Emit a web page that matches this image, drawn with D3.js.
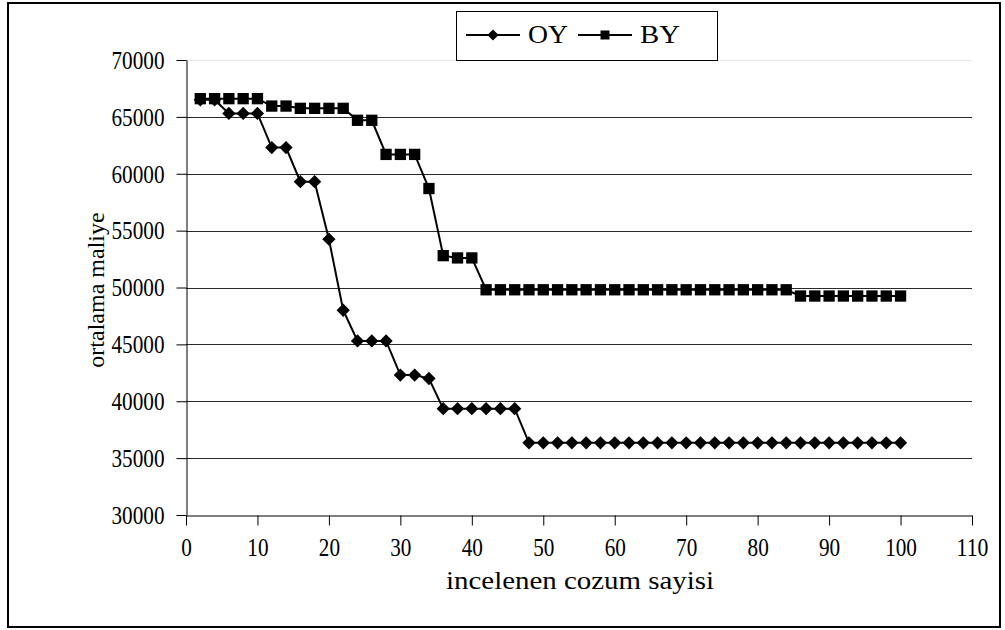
<!DOCTYPE html>
<html>
<head>
<meta charset="utf-8">
<script src="https://cdn.jsdelivr.net/npm/d3@7"></script>
<style>
  html, body { margin: 0; padding: 0; background: #fff; }
  svg { display: block; }
  svg text { font-family: "Liberation Serif", Tinos, "Times New Roman", "DejaVu Serif", serif !important; fill: #000; }
</style>
</head>
<body>
<svg id="chart" width="1005" height="630"></svg>
<script>
// ---- data ----
const xValues = [2,4,6,8,10,12,14,16,18,20,22,24,26,28,30,32,34,36,38,40,42,44,46,48,50,
                 52,54,56,58,60,62,64,66,68,70,72,74,76,78,80,82,84,86,88,90,92,94,96,98,100];
const seriesOY = [66500,66500,65300,65300,65300,62300,62300,59300,59300,54250,
                  48000,45300,45300,45300,42300,42300,42000,39350,39350,39350,
                  39350,39350,39350,36350,36350,36350,36350,36350,36350,36350,
                  36350,36350,36350,36350,36350,36350,36350,36350,36350,36350,
                  36350,36350,36350,36350,36350,36350,36350,36350,36350,36350];
const seriesBY = [66600,66600,66600,66600,66600,65950,65950,65750,65750,65750,
                  65750,64700,64700,61700,61700,61700,58700,52800,52600,52600,
                  49800,49800,49800,49800,49800,49800,49800,49800,49800,49800,
                  49800,49800,49800,49800,49800,49800,49800,49800,49800,49800,
                  49800,49800,49250,49250,49250,49250,49250,49250,49250,49250];
const seriesNames = ["OY", "BY"];
const xTicks = [0,10,20,30,40,50,60,70,80,90,100,110];
const yTicks = [30000,35000,40000,45000,50000,55000,60000,65000,70000];
const xTitle = "incelenen cozum sayisi";
const yTitle = "ortalama maliye";

// ---- layout ----
const SERIF = '"Liberation Serif", Tinos, "Times New Roman", "DejaVu Serif", serif';
const svg = d3.select("#chart").attr("font-family", SERIF);
const pLeft = 186, pRight = 972, pTop = 60, pBottom = 515;
const x = d3.scaleLinear().domain([0, 110]).range([pLeft, pRight]);
const y = d3.scaleLinear().domain([30000, 70000]).range([pBottom, pTop]);

// outer border
svg.append("rect").attr("x", 8).attr("y", 3).attr("width", 992).attr("height", 624)
  .attr("fill", "none").attr("stroke", "#000").attr("stroke-width", 2);

// gridlines
svg.append("g").selectAll("line").data(yTicks.filter(d => d > 30000)).join("line")
  .attr("x1", pLeft).attr("x2", pRight)
  .attr("y1", d => Math.round(y(d)) + 0.5).attr("y2", d => Math.round(y(d)) + 0.5)
  .attr("stroke", d => d === 70000 ? "#e6e6e6" : "#2a2a2a").attr("stroke-width", 1);

function styleTicks(g) {
  g.attr("font-family", SERIF).attr("font-size", 26);
  g.selectAll(".tick text")
    .attr("font-size", 26)
    .attr("textLength", d => String(d).length * 10.6)
    .attr("lengthAdjust", "spacingAndGlyphs");
  g.select(".domain").attr("stroke", "#000");
}

// y axis
const yAxis = svg.append("g").attr("transform", `translate(${pLeft + 0.5},0)`)
  .call(d3.axisLeft(y).tickValues(yTicks).tickFormat(d3.format("d")).tickSize(10).tickSizeOuter(0).tickPadding(12));
styleTicks(yAxis);

// x axis
const xAxis = svg.append("g").attr("transform", `translate(0,${pBottom + 0.5})`)
  .call(d3.axisBottom(x).tickValues(xTicks).tickFormat(d3.format("d")).tickSize(10).tickSizeOuter(0).tickPadding(12));
styleTicks(xAxis);

// axis titles
svg.append("text").attr("x", 580).attr("y", 589)
  .attr("text-anchor", "middle").attr("font-size", 25)
  .attr("textLength", 268).attr("lengthAdjust", "spacingAndGlyphs").text(xTitle);
svg.append("text").attr("transform", `translate(104,290) rotate(-90)`)
  .attr("text-anchor", "middle").attr("font-size", 24).text(yTitle);

// lines
const line = d3.line().x((d, i) => x(xValues[i])).y(d => y(d));
[seriesOY, seriesBY].forEach(s => {
  svg.append("path").datum(s).attr("d", line)
    .attr("fill", "none").attr("stroke", "#000").attr("stroke-width", 2);
});

// OY markers (diamond)
svg.append("g").selectAll("path").data(seriesOY).join("path")
  .attr("transform", (d, i) => `translate(${x(xValues[i])},${y(d)}) rotate(45)`)
  .attr("d", d3.symbol().type(d3.symbolSquare).size(88))
  .attr("fill", "#000");
// BY markers (square)
svg.append("g").selectAll("path").data(seriesBY).join("path")
  .attr("transform", (d, i) => `translate(${x(xValues[i])},${y(d)})`)
  .attr("d", d3.symbol().type(d3.symbolSquare).size(128)).attr("fill", "#000");

// legend
const lg = svg.append("g");
lg.append("rect").attr("x", 456.5).attr("y", 11.5).attr("width", 261).attr("height", 49)
  .attr("fill", "#fff").attr("stroke", "#000").attr("stroke-width", 1);
const items = [
  { name: seriesNames[0], x0: 466, marker: "diamond" },
  { name: seriesNames[1], x0: 578, marker: "square" }
];
items.forEach(it => {
  const cy = 35;
  lg.append("line").attr("x1", it.x0).attr("x2", it.x0 + 54).attr("y1", cy).attr("y2", cy)
    .attr("stroke", "#000").attr("stroke-width", 2);
  if (it.marker === "diamond") {
    lg.append("path").attr("transform", `translate(${it.x0 + 27},${cy}) rotate(45)`)
      .attr("d", d3.symbol().type(d3.symbolSquare).size(62)).attr("fill", "#000");
  } else {
    lg.append("path").attr("transform", `translate(${it.x0 + 27},${cy})`)
      .attr("d", d3.symbol().type(d3.symbolSquare).size(81)).attr("fill", "#000");
  }
  lg.append("text").attr("x", it.x0 + 62).attr("y", 43).attr("font-size", 26)
    .attr("textLength", 40).attr("lengthAdjust", "spacingAndGlyphs").text(it.name);
});
</script>
</body>
</html>
